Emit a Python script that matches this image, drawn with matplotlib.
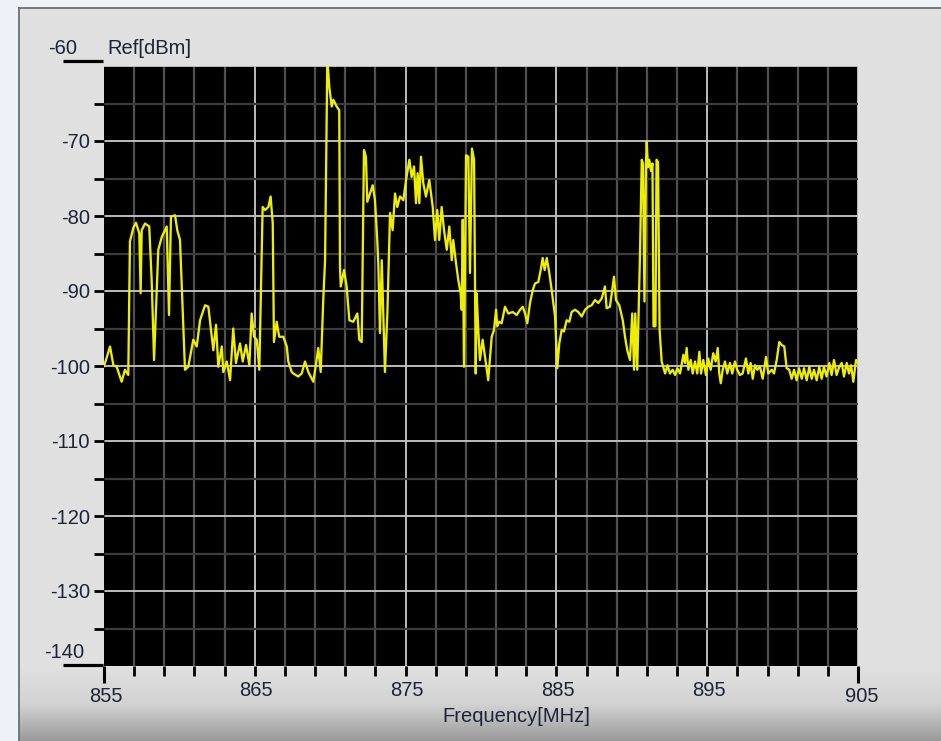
import numpy as np
import matplotlib
matplotlib.use("Agg")
import matplotlib.pyplot as plt
from matplotlib.patches import Rectangle
from matplotlib.colors import LinearSegmentedColormap
from matplotlib.transforms import ScaledTranslation, blended_transform_factory

# Spectrum trace: frequency [MHz] and level [dBm]
freq_mhz = [
    855.00, 855.07, 855.40, 855.62, 855.84, 856.17, 856.39, 856.61, 856.72, 856.94,
    857.12, 857.34, 857.43, 857.50, 857.72, 858.00, 858.16, 858.32, 858.60, 858.83,
    859.16, 859.31, 859.44, 859.71, 859.86, 860.04, 860.37, 860.59, 860.92, 861.15,
    861.37, 861.70, 861.92, 862.25, 862.43, 862.58, 862.81, 862.91, 863.14, 863.36,
    863.57, 863.75, 864.02, 864.20, 864.42, 864.64, 864.79, 864.95, 865.13, 865.30,
    865.52, 865.68, 865.90, 866.05, 866.19, 866.27, 866.45, 866.62, 866.89, 867.12,
    867.22, 867.45, 867.55, 867.88, 868.11, 868.33, 868.55, 868.88, 869.10, 869.21,
    869.37, 869.54, 869.66, 869.81, 869.94, 870.10, 870.21, 870.43, 870.60, 870.65,
    870.70, 870.92, 871.09, 871.27, 871.53, 871.80, 871.93, 872.09, 872.24, 872.37,
    872.46, 872.64, 872.82, 872.97, 873.12, 873.19, 873.30, 873.42, 873.63, 873.79,
    873.97, 874.14, 874.30, 874.45, 874.63, 874.85, 875.03, 875.25, 875.40, 875.56,
    875.69, 875.80, 875.91, 876.02, 876.17, 876.35, 876.57, 876.80, 876.95, 877.10,
    877.23, 877.39, 877.55, 877.73, 877.90, 878.06, 878.16, 878.32, 878.49, 878.65,
    878.72, 878.79, 878.87, 879.01, 879.16, 879.27, 879.40, 879.54, 879.65, 879.71,
    879.82, 879.93, 880.11, 880.27, 880.48, 880.71, 880.86, 881.00, 881.08, 881.21,
    881.37, 881.59, 881.81, 882.10, 882.37, 882.59, 882.77, 882.92, 883.07, 883.25,
    883.43, 883.58, 883.80, 883.96, 884.09, 884.22, 884.36, 884.53, 884.69, 884.91,
    885.06, 885.19, 885.35, 885.50, 885.68, 885.86, 886.01, 886.23, 886.45, 886.68,
    886.90, 887.12, 887.34, 887.56, 887.78, 888.00, 888.22, 888.33, 888.55, 888.82,
    888.95, 889.17, 889.40, 889.55, 889.70, 889.88, 890.03, 890.15, 890.23, 890.36,
    890.54, 890.66, 890.74, 890.84, 890.94, 890.99, 891.07, 891.16, 891.27, 891.37,
    891.44, 891.57, 891.64, 891.74, 891.84, 891.98, 892.21, 892.37, 892.53, 892.71,
    892.87, 893.02, 893.20, 893.42, 893.53, 893.64, 893.75, 893.91, 894.04, 894.19,
    894.34, 894.48, 894.59, 894.74, 894.92, 895.07, 895.23, 895.40, 895.56, 895.70,
    895.80, 895.90, 896.03, 896.18, 896.33, 896.51, 896.66, 896.84, 896.99, 897.17,
    897.35, 897.57, 897.73, 897.88, 898.02, 898.17, 898.32, 898.50, 898.68, 898.90,
    899.05, 899.28, 899.43, 899.61, 899.78, 899.94, 900.11, 900.27, 900.44, 900.60,
    900.76, 900.93, 901.09, 901.27, 901.42, 901.60, 901.77, 901.93, 902.08, 902.26,
    902.43, 902.59, 902.74, 902.92, 903.10, 903.25, 903.41, 903.58, 903.76, 903.92,
    904.07, 904.25, 904.40, 904.54, 904.69, 904.87, 905.00,
]
level_dbm = [
    -100.0, -99.6, -97.4, -99.9, -100.1, -102.1, -100.5, -101.2, -83.4, -81.6,
    -80.9, -82.3, -90.3, -81.9, -81.0, -81.4, -88.5, -99.2, -84.5, -82.8,
    -81.4, -93.2, -80.1, -79.9, -81.9, -83.2, -100.5, -100.1, -96.5, -97.4,
    -93.9, -91.9, -92.1, -97.9, -94.5, -100.1, -97.4, -100.8, -99.4, -101.9,
    -95.0, -99.6, -97.0, -99.4, -97.2, -99.9, -93.0, -96.1, -96.5, -100.5,
    -78.8, -79.2, -78.8, -77.4, -81.0, -96.8, -94.1, -96.1, -96.1, -97.4,
    -99.4, -100.8, -101.0, -101.4, -101.0, -99.4, -100.8, -102.1, -99.2, -97.6,
    -100.8, -91.2, -85.9, -59.0, -62.8, -65.4, -64.5, -65.4, -65.9, -86.8,
    -89.4, -87.2, -89.4, -93.9, -94.1, -93.0, -96.5, -96.8, -71.2, -72.1,
    -78.1, -77.0, -75.9, -77.9, -83.2, -86.3, -95.6, -85.9, -100.8, -93.0,
    -79.6, -81.9, -77.0, -78.8, -77.4, -77.9, -75.2, -72.5, -74.8, -73.4,
    -78.3, -74.3, -78.3, -72.1, -75.6, -77.4, -75.2, -78.8, -83.2, -79.2,
    -83.2, -78.8, -81.9, -84.5, -81.4, -85.9, -83.2, -85.9, -88.5, -90.3,
    -92.5, -80.5, -100.1, -71.9, -72.1, -87.6, -71.0, -72.5, -101.0, -90.3,
    -95.2, -99.2, -96.5, -98.8, -101.9, -96.1, -95.2, -92.5, -94.7, -94.1,
    -94.3, -92.1, -93.0, -92.8, -93.2, -92.5, -92.1, -93.0, -94.3, -91.6,
    -89.9, -89.0, -88.8, -87.2, -85.6, -87.2, -85.6, -87.6, -89.9, -93.4,
    -100.3, -97.0, -95.2, -95.4, -93.9, -94.1, -92.8, -92.5, -92.8, -93.4,
    -92.5, -92.1, -91.9, -91.2, -91.6, -91.0, -89.4, -92.3, -92.1, -88.1,
    -91.2, -91.9, -93.9, -96.1, -97.9, -99.2, -93.0, -100.5, -93.0, -100.5,
    -85.4, -72.5, -73.0, -91.4, -73.0, -70.1, -73.5, -72.5, -74.0, -73.0,
    -94.7, -94.7, -72.5, -72.8, -95.0, -99.4, -101.0, -99.9, -101.0, -100.5,
    -101.2, -100.3, -101.0, -98.5, -99.6, -97.6, -100.5, -99.2, -101.0, -99.4,
    -101.0, -98.1, -101.0, -99.2, -101.2, -99.0, -100.5, -98.3, -99.4, -97.6,
    -101.0, -102.3, -100.5, -99.4, -101.0, -99.6, -101.0, -99.4, -100.5, -101.2,
    -101.0, -99.0, -101.0, -99.6, -101.7, -99.9, -100.5, -100.1, -101.7, -98.8,
    -101.0, -100.5, -101.0, -99.2, -96.8, -97.2, -97.4, -100.3, -100.5, -101.7,
    -100.5, -101.9, -100.3, -101.7, -100.3, -101.9, -100.1, -101.7, -100.5, -101.9,
    -100.1, -101.7, -100.1, -101.4, -99.6, -101.2, -99.2, -101.2, -100.1, -99.6,
    -101.4, -99.6, -101.0, -99.9, -102.1, -99.2, -99.6,
]

# Axis scale and labels
f_start, f_stop = 855, 905
ref_top, ref_bottom = -60, -140
y_tick_values = [-70, -80, -90, -100, -110, -120, -130]
x_label_values = [855, 865, 875, 885, 895, 905]
y_unit = "Ref[dBm]"
x_title = "Frequency[MHz]"

W, H = 941, 741
TXT = "#1E2438"
FONT = "Liberation Sans"
FS = 14.5

fig = plt.figure(figsize=(W / 100, H / 100), dpi=100)
fig.patch.set_facecolor("#EDF1F8")

# Window panel behind the plot
bg = fig.add_axes([0, 0, 1, 1])
bg.set_xlim(0, W)
bg.set_ylim(H, 0)
bg.axis("off")
bg.add_patch(Rectangle((19, 8), W - 19, H - 8, facecolor="#E0E0E0", edgecolor="none", zorder=0))
shade = LinearSegmentedColormap.from_list("shade", ["#E0E0E0", "#D2D2D2", "#9A9A9A"])
bg.imshow(np.linspace(0, 1, 200)[:, None], extent=(19.5, W, H, 668), cmap=shade,
          aspect="auto", zorder=1, interpolation="bilinear")
bg.plot([19, 19], [8, H], color="#6F6F6F", lw=1.3, zorder=2)
bg.plot([19, W], [8, 8], color="#6F6F6F", lw=1.3, zorder=2)
# Reference-level end markers on the left
bg.plot([63, 103], [61, 61], color="black", lw=2.3, solid_capstyle="butt", zorder=3)
bg.plot([63, 103], [665, 665], color="black", lw=2.3, solid_capstyle="butt", zorder=3)

# Plot area
ax = fig.add_axes([104 / W, (H - 666) / H, (858 - 104) / W, 600 / H])
ax.set_facecolor("black")
ax.set_xlim(f_start, f_stop)
ax.set_ylim(ref_bottom, ref_top)
for s in ax.spines.values():
    s.set_visible(False)

# Grid: bright every 10 units, dim in between
for f in np.arange(f_start + 2, f_stop + 1, 2):
    bright = (f - f_start) % 10 == 0
    ax.axvline(f, color="#BDBDBD" if bright else "#505050", lw=1.4 if bright else 1.6, zorder=1)
for v in np.arange(ref_bottom + 5, ref_top + 1, 5):
    bright = v % 10 == 0
    ax.axhline(v, color="#BDBDBD" if bright else "#3C3C3C", lw=1.4 if bright else 1.6, zorder=1)

ax.plot(freq_mhz, level_dbm, color="#EEEE00", lw=1.65, zorder=3, solid_joinstyle="round")

# Ticks
ax.set_yticks(y_tick_values)
ax.set_yticklabels([str(v) for v in y_tick_values], fontsize=FS, color=TXT, family=FONT)
ax.set_yticks(np.arange(ref_bottom + 5, ref_top, 10), minor=True)
ax.tick_params(axis="y", which="both", direction="out", length=7.2, width=2.0,
               color="black", pad=3)
ax.set_xticks([f_start, f_stop])
ax.set_xticks(np.arange(f_start + 2, f_stop, 2), minor=True)
ax.set_xticklabels([])
ax.tick_params(axis="x", which="major", direction="out", length=12.5, width=2.2, color="black")
ax.tick_params(axis="x", which="minor", direction="out", length=7.2, width=2.0, color="black")

px = lambda dx, dy: ScaledTranslation(dx / 100, dy / 100, fig.dpi_scale_trans)
xdata_yaxes = blended_transform_factory(ax.transData, ax.transAxes)
ydata_xaxes = blended_transform_factory(ax.transAxes, ax.transData)

for v in x_label_values:
    edge = v in (f_start, f_stop)
    dx = 4 if v == f_stop else 1.5
    dy = -31 if edge else -24
    ax.text(v, 0, str(v), transform=xdata_yaxes + px(dx, dy), ha="center", va="center",
            fontsize=FS, color=TXT, family=FONT)

ax.text(0, ref_top, str(ref_top), transform=ydata_xaxes + px(-27, 18), ha="right",
        va="center", fontsize=FS, color=TXT, family=FONT)
ax.text(0, ref_top, y_unit, transform=ydata_xaxes + px(3, 18), ha="left",
        va="center", fontsize=FS, color=TXT, family=FONT)
ax.text(0, ref_bottom, str(ref_bottom), transform=ydata_xaxes + px(-20, 14), ha="right",
        va="center", fontsize=FS, color=TXT, family=FONT)
fig.text(516 / W, 1 - 717 / H, x_title, ha="center", va="center",
         fontsize=FS, color=TXT, family=FONT)

fig.savefig("out.png", dpi=100, facecolor=fig.get_facecolor())
